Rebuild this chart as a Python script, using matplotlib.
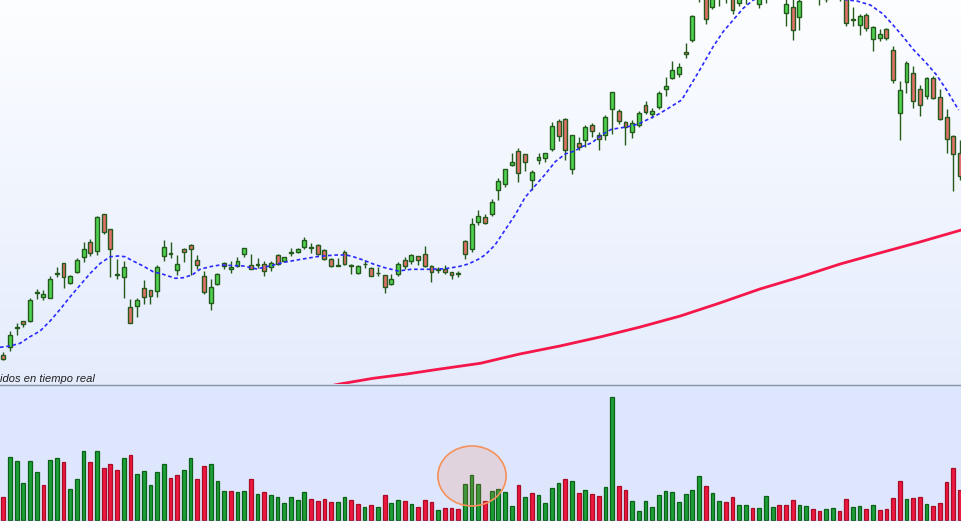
import numpy as np
import matplotlib
matplotlib.use('Agg')
import matplotlib.pyplot as plt
from matplotlib.patches import Ellipse
from matplotlib.lines import Line2D

# ---- datos (velas diarias, unidades arbitrarias) ----
open_ = [45, 53, 72, 79, 79, 107, 103, 102, 126, 137,
         117, 128, 143, 158, 149, 186, 171, 126, 123, 93,
         94, 112, 110, 109, 144, 146.5, 130, 151, 155, 140,
         124, 97, 116, 137, 131, 134, 146, 135, 135.5, 136,
         133, 145, 139, 147.3, 148, 153, 153.3, 155, 150, 141,
         134.5, 148, 135, 127, 135.7, 132, 126.7, 125, 116, 126,
         140, 139, 144, 146, 134, 130.5, 131, 128, 126.5, 159,
         151, 178, 183, 186, 210, 216, 235, 249, 246, 220,
         240, 242, 251, 279, 281, 231, 257, 260, 275, 265,
         265, 291, 289, 278, 268, 275, 295, 286, 293, 311,
         322, 326, 348, 360, 408, 418, 393, 404, 414, 408,
         397, 402, 414, 396, 406, 416, 420, 387, 393, 383,
         402, 412, 410, 401, 406, 412, 406, 380.5, 375, 385,
         361, 362, 371, 350, 287, 318, 327, 311, 304, 322,
         303, 283, 264, 247]
high = [48, 69, 77, 79, 102, 111, 110, 124, 133, 137,
        125, 142, 158, 161, 184, 186, 171, 141, 139, 101,
        102, 120, 110, 135, 160, 158, 145, 152, 156, 145,
        129, 121, 127, 138, 139, 143, 152, 146, 142, 139,
        139, 146, 143, 152, 152, 163, 157, 156, 151, 142,
        142, 150, 136, 135, 140, 133, 133, 125, 126, 138,
        143, 146, 144, 154, 135, 133, 135, 128, 129, 160,
        182, 190, 186, 201, 222, 231, 247, 252, 246, 230,
        247, 247, 278, 281, 282, 265, 263, 275, 277, 268,
        285, 308, 291, 279, 280, 289, 299, 292, 309, 323,
        339, 337, 357, 385, 425, 422, 415, 420, 418, 412,
        412, 418, 420, 414, 424, 428, 426, 404, 402, 405,
        416, 416, 414, 412, 416, 415, 410, 393, 386, 387,
        374, 371, 372, 354, 319, 339, 334, 315, 323, 324,
        311, 291, 265, 260]
low = [40, 49, 65, 73, 78, 101, 100, 102, 123, 112,
       116, 127, 138, 144, 145, 166, 123, 121, 102, 77,
       83, 96, 96, 103, 139, 142, 125, 138, 125, 131,
       106, 90, 115, 131, 127, 133, 143, 131, 132, 124,
       129, 135, 138, 144, 147, 151, 147, 145, 140, 133,
       134.5, 135, 126, 126, 132, 124, 124, 107, 115, 124,
       131, 136, 135, 133, 118, 127, 126, 121, 123, 141,
       148, 175, 176, 184, 200, 213, 234, 218, 229, 210,
       236, 238, 249, 259, 240, 226, 250, 253, 263, 250,
       260, 266, 276, 255, 262, 273, 286, 282, 291, 304,
       321, 323, 342, 358, 398, 376, 391, 394, 397, 386,
       394, 396, 402, 392, 397, 408, 404, 374, 360, 370,
       401, 401, 395, 398, 402, 399, 374, 374, 365, 369,
       349, 359, 360, 317, 260, 307, 292, 284, 301, 301,
       280, 247, 209, 220]
close = [41, 65, 73, 76, 100, 108, 106, 121, 127, 123,
         124, 140, 151, 147, 183, 168, 151, 125.5, 133, 77,
         100, 103, 104, 133, 153, 146, 136, 148, 151, 135,
         108, 113, 126, 134, 133, 139, 152, 131, 136.5, 129,
         137, 136, 143, 148, 151, 160, 152.5, 146, 141, 134,
         134.7, 136, 134.5, 134, 136.3, 124, 127.3, 113, 121, 136,
         134, 145, 140, 134, 128, 131, 128, 125, 126, 146,
         176, 184, 177, 198, 219, 231, 238, 227, 238, 228,
         243, 247, 274, 264, 250, 265, 253, 273, 269, 261,
         283, 308, 279, 273, 277, 287, 288, 289, 307, 314,
         330, 333, 346, 384, 420, 381, 410, 416, 404, 390,
         408, 414, 405, 410, 420, 424, 410, 396, 370, 399,
         412, 404, 402, 408, 412, 404, 377, 380.7, 384, 372,
         373, 366, 362, 320, 310, 337, 299, 295, 322, 302,
         281, 261, 246, 224]

volume = [23, 63, 59, 37, 59, 48, 35, 60, 62, 58,
          31, 41, 69, 58, 69, 52, 56, 50, 62, 65,
          46, 49, 35, 48, 56, 42, 45, 50, 62, 41,
          54, 56, 39, 29, 29, 28, 29, 41, 26, 28,
          25, 23, 17, 23, 20, 28, 21, 19, 21, 18,
          18, 23, 20, 16, 13, 15, 13, 25, 17, 20,
          19, 16, 13, 20, 18, 10, 12, 12, 11, 36,
          45, 36, 19, 29, 31, 28, 14, 35, 23, 27,
          25, 17, 32, 37, 41, 39, 27, 30, 26, 24,
          33, 123, 34, 30, 19, 9, 19, 13, 25, 29,
          28, 18, 26, 30, 44, 34, 27, 19, 18, 23,
          15, 15, 12, 12, 24, 13, 15, 15, 20, 15,
          14, 11, 9, 11, 12, 9, 21, 13, 14, 11,
          15, 10, 11, 22, 39, 21, 22, 23, 16, 14,
          17, 38, 52, 30]
# color del volumen: g = sube frente al cierre anterior, r = baja
vol_dir = ("rgggggrggr" "gggrgrrrgr" "gggggrrggr" "rgggrggrgr" "ggggggrr"
           "rrggrrgrgr" "ggrgrrrgrr" "rgggrggggr" "grggggrgrg" "rrggrrgg"
           "gggggggggr" "ggrrggrggg" "rrrggrrggr" "rggrgrrrrg" "rrgrrrrr")

# media movil corta (linea azul discontinua)
ma_x = [-0.5, 1, 2.5, 4, 5.5, 7, 8.5, 10, 11.5, 13, 14.5, 16, 17.2, 18.2, 19.4,
        20.9, 22.4, 23.9, 25.7, 26.9, 28.2, 29.4, 30.9, 32.4, 35.9, 37.9, 40.4,
        41.9, 43.9, 45.4, 46.8, 48.3, 49.8, 51.3, 52.3, 53.8, 55.3, 56.8, 59,
        61, 63.5, 66, 68, 69.5, 71, 72, 73.5, 75, 76.5, 78, 79.5, 81, 82.5,
        84, 85.5, 86.5, 88, 89.4, 90.9, 93.4, 94.9, 96.4, 97.9, 99.4, 101.4,
        102.6, 104.1, 106.1, 107.6, 109.1, 110.6, 112.1, 117, 121, 126.1,
        127.6, 129.6, 131.5, 133, 134.5, 136, 138, 139.5, 141, 142.8]
ma_y = [52.7, 54, 56.7, 63.3, 69, 79, 90.7, 103.3, 115, 126.7, 136.7, 143.3,
        144, 143.3, 139, 134, 128.3, 125.7, 121.7, 122.3, 125, 130.7, 133.3,
        135, 134, 131, 135, 137.7, 140, 141.7, 143.3, 144.3, 145, 145, 143.3,
        140, 136, 132.7, 129, 130.7, 130.7, 131.3, 133.3, 136, 140.7, 145,
        155, 170, 185, 202.7, 214.3, 225.7, 238.3, 246, 249.3, 253.3, 257.3,
        265, 270.7, 273.3, 276, 280.7, 285.7, 291.7, 300, 313.3, 330, 353.3,
        368.3, 380, 391.7, 400, 412, 412, 400, 399, 395, 386, 375, 363.3,
        350.7, 336.7, 325, 310, 290]

# media movil larga (linea roja)
mal_x = [44.3, 50.3, 55.3, 60.3, 65.3, 71.3, 77.2, 83.2, 89.2, 95.2, 101.2,
         107.1, 113.1, 119.1, 125.1, 131, 137, 143.2]
mal_y = [8, 16, 21.7, 26, 31, 36.7, 46, 54, 63, 73, 84, 97, 111, 123, 136,
         147, 158, 170]

n = len(close)
x = np.arange(n)
o = np.array(open_)
c = np.array(close)
up = c >= o

W, H = 961, 521
fig = plt.figure(figsize=(W / 100, H / 100), dpi=100)

# fondo degradado
bg = fig.add_axes([0, 0, 1, 1], zorder=-5)
top_col = np.array([0.99, 0.995, 1.0])
mid_col = np.array([0.895, 0.925, 0.99])
vol_col = np.array([0.87, 0.905, 0.99])
rows = []
for py in range(H):
    if py <= 384:
        t = py / 384
        rows.append(top_col * (1 - t) + mid_col * t)
    else:
        rows.append(vol_col)
grad = np.array(rows)[:, None, :]
bg.imshow(grad, aspect='auto', extent=[0, 1, 0, 1])
bg.axis('off')

xlim = (-3.3 / 6.69, (W - 3.3) / 6.69)

# ---- panel de precios ----
ax = fig.add_axes([0, 137 / H, 1, 384 / H])
ax.patch.set_alpha(0)
edge = '#245a1c'
ax.vlines(x, low, high, color=edge, lw=1.0, zorder=2)
body_h = np.maximum(np.abs(c - o), 0.6)
ax.bar(x, body_h, bottom=np.minimum(o, c), width=0.58,
       color=np.where(up, '#4fd34f', '#e2706a'), edgecolor=edge,
       linewidth=1.0, zorder=3)
ax.plot(mal_x, mal_y, color='#f5164a', lw=2.0, zorder=4,
        solid_capstyle='round', solid_joinstyle='round')
ax.plot(ma_x, ma_y, color='#2a2aff', lw=1.2, dashes=(2.2, 1.6), zorder=5)
ax.set_xlim(*xlim)
ax.set_ylim(16, 400)
ax.axis('off')

# ---- panel de volumen ----
axv = fig.add_axes([0, 0, 1, 136 / H])
axv.patch.set_alpha(0)
vcols = ['#1d9f38' if d == 'g' else '#ee1740' for d in vol_dir]
vedges = ['#0b6118' if d == 'g' else '#a80d28' for d in vol_dir]
axv.bar(x, volume, width=0.56, color=vcols, edgecolor=vedges,
        linewidth=0.9, zorder=3)
axv.add_patch(Ellipse((70.06, 44), 10.2, 60, facecolor=(0.96, 0.5, 0.35, 0.18),
                      edgecolor='#f4925c', lw=1.2, zorder=4))
axv.set_xlim(*xlim)
axv.set_ylim(-1, 135)
axv.axis('off')

# separador y texto
fig.add_artist(Line2D([0, 1], [136.5 / H, 136.5 / H], color='#8796a6', lw=1.0))
fig.add_artist(Line2D([0, 1], [0.5 / H, 0.5 / H], color='#8796a6', lw=1.0))
fig.text(0.0, (H - 382) / H, 'idos en tiempo real', fontsize=8,
         family='Liberation Sans', style='italic', color='#1e1e1e',
         va='baseline', ha='left')

fig.savefig('out.png', dpi=100)
